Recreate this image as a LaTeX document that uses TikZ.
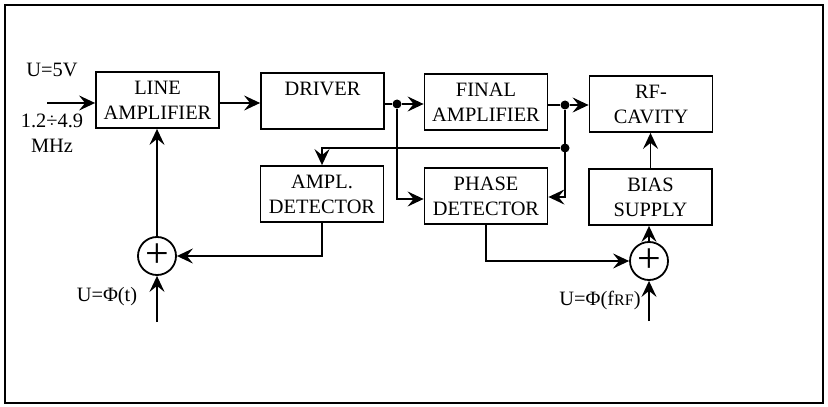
\documentclass[tikz,border=0pt]{standalone}
\usepackage{fontspec}
\setmainfont{Liberation Serif}
\usetikzlibrary{arrows.meta}

\begin{document}
\begin{tikzpicture}[x=.5pt, y=-.5pt, line width=.9pt,
  every node/.style={font=\fontsize{10.2}{12.5}\selectfont},
  blk/.style={draw, minimum width=61.5pt, minimum height=28pt, inner sep=0pt, align=center},
  sum/.style={draw, circle, minimum size=19pt, inner sep=0pt},
  dot/.style={circle, fill, inner sep=0pt, minimum size=4.5pt},
  >={Stealth[length=8pt, width=7.5pt, inset=3pt]}]
  \useasboundingbox (0,0) rectangle (828,406);
  \draw (5,5) rectangle (823,403);
  % blocks
  \node[blk] (LA)  at (157.5,100) {LINE\\AMPLIFIER};
  \node[blk] (DRV) at (322.5,101) {DRIVER\\\phantom{X}};
  \node[blk] (FA)  at (486,102)   {FINAL\\AMPLIFIER};
  \node[blk] (RF)  at (651,104)   {RF-\\CAVITY};
  \node[blk] (AD)  at (322,194)   {AMPL.\\DETECTOR};
  \node[blk] (PD)  at (486,196)   {PHASE\\DETECTOR};
  \node[blk] (BS)  at (650.5,197) {BIAS\\SUPPLY};
  \node[sum] (S1) at (157,256) {\fontsize{21}{21}\selectfont +};
  \node[sum] (S2) at (649,261) {\fontsize{21}{21}\selectfont +};
  % branch points
  \node[dot] (D1) at (397,104) {};
  \node[dot] (D2) at (565,105) {};
  \node[dot] (D3) at (565,148) {};
  \coordinate (IN) at (47,103);
  \coordinate (P1) at (157,322);
  \coordinate (P2) at (649,321);
  % labels
  \node (U5) at (52,70) {U=5V};
  \node[align=center] (FR) at (52,133) {1.2÷4.9\\MHz};
  \node (UT) at (107,297) {U=Φ(t)};
  \node (UF) at (600,300) {U=Φ(f{\fontsize{8}{8}\selectfont RF})};
  % signal path
  \draw[->] (IN) -- (IN -| LA.west);
  \draw[->] (LA.east |- 0,103) -- (DRV.west |- 0,103);
  \draw (DRV.east |- D1) -- (D1);
  \draw[->] (D1) -- (FA.west |- D1);
  \draw (FA.east |- D2) -- (D2);
  \draw[->] (D2) -- (RF.west |- D2);
  \draw[->] (D1) |- (PD.west |- 0,199);
  \draw[->] (D2) |- (PD.east |- 0,197);
  \draw[->] (D3) -| (AD.north);
  % feedback loops
  \draw[->] (AD.south) |- (S1.east);
  \draw[->] (S1.north) -- (S1.north |- LA.south);
  \draw[->] (P1) -- (S1.south);
  \draw[->] (PD.south) |- (S2.west);
  \draw[->] (S2.north) -- (S2.north |- BS.south);
  \draw[->] (P2) -- (S2.south);
  \draw[->] (BS.north) -- (BS.north |- RF.south);
\end{tikzpicture}
\end{document}
